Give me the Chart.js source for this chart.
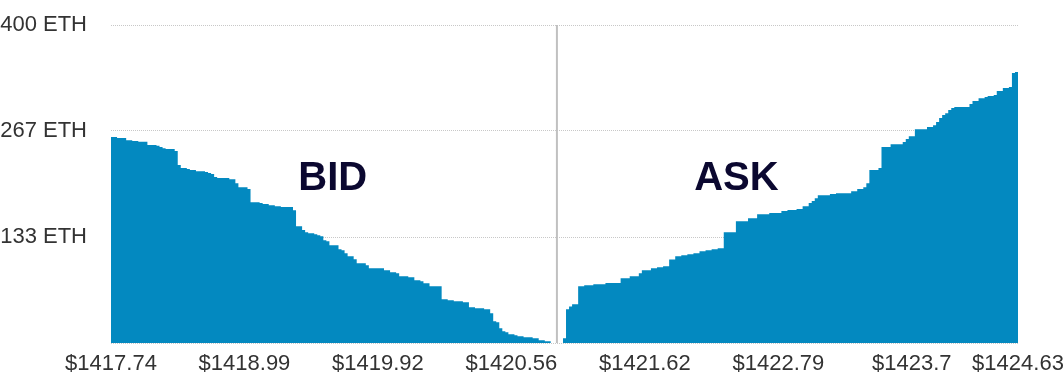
<!DOCTYPE html>
<html>
<head>
<meta charset="utf-8">
<script src="https://cdn.jsdelivr.net/npm/chart.js@4/dist/chart.umd.min.js"></script>
<style>
    body { margin: 0; background: #fff; }
    canvas { display: block; }
</style>
</head>
<body>
<canvas id="depth-chart" width="1064" height="376"></canvas>
<script>
// price levels (index along the book) where each step starts, and cumulative depth in ETH
var bidLevels = [0, 2, 5, 7, 9, 12, 15, 16, 17, 18, 21, 22, 23, 25, 26, 28, 31, 32, 33, 34, 35, 39, 41, 42, 45, 46, 49, 50, 52, 54, 56, 60, 61, 63, 64, 65, 67, 68, 69, 70, 71, 72, 75, 76, 77, 78, 80, 81, 84, 85, 90, 92, 94, 95, 98, 100, 102, 103, 105, 109, 111, 113, 116, 118, 120, 123, 125, 126, 127, 128, 129, 130, 131, 133, 134, 136, 139, 141, 143, 145];
var bidDepth = [259, 258, 255, 254, 253, 249, 248, 246.5, 245, 244, 241.4, 224, 220, 219, 217.5, 216, 215, 213.7, 212.5, 208.7, 207.4, 206, 201, 196, 193.6, 177, 176, 174.7, 173.4, 172, 171, 167, 147, 142, 139.4, 138, 136.9, 135.6, 134.4, 129.3, 128, 123, 118, 116.7, 113, 109, 105.4, 100.4, 97.9, 94, 91.6, 89, 87.8, 84, 82.7, 79, 77.7, 75.2, 71.4, 55, 53.8, 52.5, 51.3, 45, 43.7, 42.4, 37.4, 27.3, 26, 18.5, 14.7, 13.5, 11, 9.7, 8.4, 7.2, 5.9, 3.4, 2.1, 2.1];

var askLevels = [149, 150, 151, 152, 154, 156, 159, 163, 168, 171, 174, 175, 178, 180, 182, 184, 186, 188, 190, 192, 194, 196, 198, 200, 202, 206, 210, 213, 217, 221, 223, 226, 228, 230, 231, 232, 233, 237, 239, 244, 246, 248, 249, 250, 253, 254, 257, 261, 262, 263, 265, 269, 271, 272, 273, 274, 275, 276, 277, 278, 283, 284, 286, 288, 289, 291, 292, 294, 296, 297, 298, 299];
var askDepth = [6, 42.4, 46, 48.7, 71.4, 72.7, 74, 75.5, 81.5, 84, 87.8, 91.6, 94, 95.3, 96.6, 105, 109, 110.5, 111.7, 113, 115.5, 116.7, 118, 119.3, 139.4, 153, 157, 162, 163.4, 166, 167.3, 168.5, 172, 176, 178.5, 182, 186, 187.3, 188.5, 191, 193.6, 196, 201, 217.5, 220, 246.5, 250, 252.8, 256.5, 260, 269, 271.7, 274, 278, 283, 286.8, 289, 293, 295.6, 296.9, 300.6, 304.4, 308, 309.4, 310.7, 312, 317, 320.8, 322, 339.7, 341, 341];

var midLevel = 147; // mid price between best bid and best ask

var xTickLevels = [0, 44, 88, 132, 176, 220, 264, 299];
var xTickLabels = ['$1417.74', '$1418.99', '$1419.92', '$1420.56', '$1421.62', '$1422.79', '$1423.7', '$1424.63'];

var yTickValues = [0, 133.33, 266.67, 400];
var yTickLabels = ['', '133 ETH', '267 ETH', '400 ETH'];

var sideNames = ['BID', 'ASK'];

function toPoints(levels, depth) { // unisce livelli e profondita in punti {x, y}
    var points = [];
    for (var i = 0; i < levels.length; i++) {
        points.push({ x: levels[i], y: depth[i] });
    }
    return points;
}

var fillColor = '#0389c0';
var fontFamily = "'Liberation Sans', Arial, Helvetica, sans-serif";

var depthOverlay = { // linea del prezzo medio e scritte BID / ASK
    id: 'depthOverlay',
    afterDatasetsDraw: function (chart) {
        var ctx = chart.ctx;
        var area = chart.chartArea;
        var xMid = chart.scales.x.getPixelForValue(midLevel);
        ctx.save();
        ctx.strokeStyle = '#c0c0c0';
        ctx.lineWidth = 2;
        ctx.beginPath();
        ctx.moveTo(xMid, area.top);
        ctx.lineTo(xMid, area.bottom);
        ctx.stroke();

        ctx.fillStyle = '#0b0830';
        ctx.font = 'bold 40px ' + fontFamily;
        ctx.textAlign = 'center';
        ctx.textBaseline = 'middle';
        var w = area.right - area.left;
        var h = area.bottom - area.top;
        ctx.fillText(sideNames[0], area.left + w * 0.2445, area.top + h * 0.485);
        ctx.fillText(sideNames[1], area.left + w * 0.6895, area.top + h * 0.485);
        ctx.restore();
    }
};

var ctx = document.getElementById('depth-chart');
var chart = new Chart(ctx, {
    type: 'line',
    data: {
        datasets: [{
            label: sideNames[0],
            data: toPoints(bidLevels, bidDepth),
            stepped: true,
            fill: 'origin',
            backgroundColor: fillColor,
            borderColor: 'rgba(0,0,0,0)',
            borderWidth: 0,
            pointRadius: 0
        }, {
            label: sideNames[1],
            data: toPoints(askLevels, askDepth),
            stepped: true,
            fill: 'origin',
            backgroundColor: fillColor,
            borderColor: 'rgba(0,0,0,0)',
            borderWidth: 0,
            pointRadius: 0
        }]
    },
    options: {
        responsive: false,
        animation: false,
        layout: { padding: { top: 25, right: 46, bottom: 0, left: 0 } },
        plugins: {
            legend: { display: false },
            tooltip: { enabled: false }
        },
        scales: {
            x: {
                type: 'linear',
                min: 0,
                max: 299,
                grid: { display: false, drawTicks: false },
                border: { display: false },
                afterBuildTicks: function (scale) {
                    scale.ticks = xTickLevels.map(function (v) { return { value: v }; });
                },
                afterFit: function (scale) {
                    scale.height = 33;
                    scale.paddingLeft = 0;
                    scale.paddingRight = 0;
                },
                ticks: {
                    autoSkip: false,
                    maxRotation: 0,
                    padding: 8,
                    color: '#333',
                    font: { family: fontFamily, size: 22 },
                    callback: function (value, index) {
                        return xTickLabels[index];
                    }
                }
            },
            y: {
                min: 0,
                max: 400,
                afterFit: function (scale) {
                    scale.width = 111;
                    scale.paddingTop = 0;
                    scale.paddingBottom = 0;
                },
                afterBuildTicks: function (scale) {
                    scale.ticks = yTickValues.map(function (v) { return { value: v }; });
                },
                grid: {
                    color: '#c8c8c8',
                    drawTicks: false,
                    lineWidth: 1
                },
                border: { display: false, dash: [1, 1] },
                ticks: {
                    padding: 24,
                    color: '#333',
                    font: { family: fontFamily, size: 22 },
                    callback: function (value, index) {
                        return yTickLabels[index];
                    }
                }
            }
        }
    },
    plugins: [depthOverlay]
});
</script>
</body>
</html>
